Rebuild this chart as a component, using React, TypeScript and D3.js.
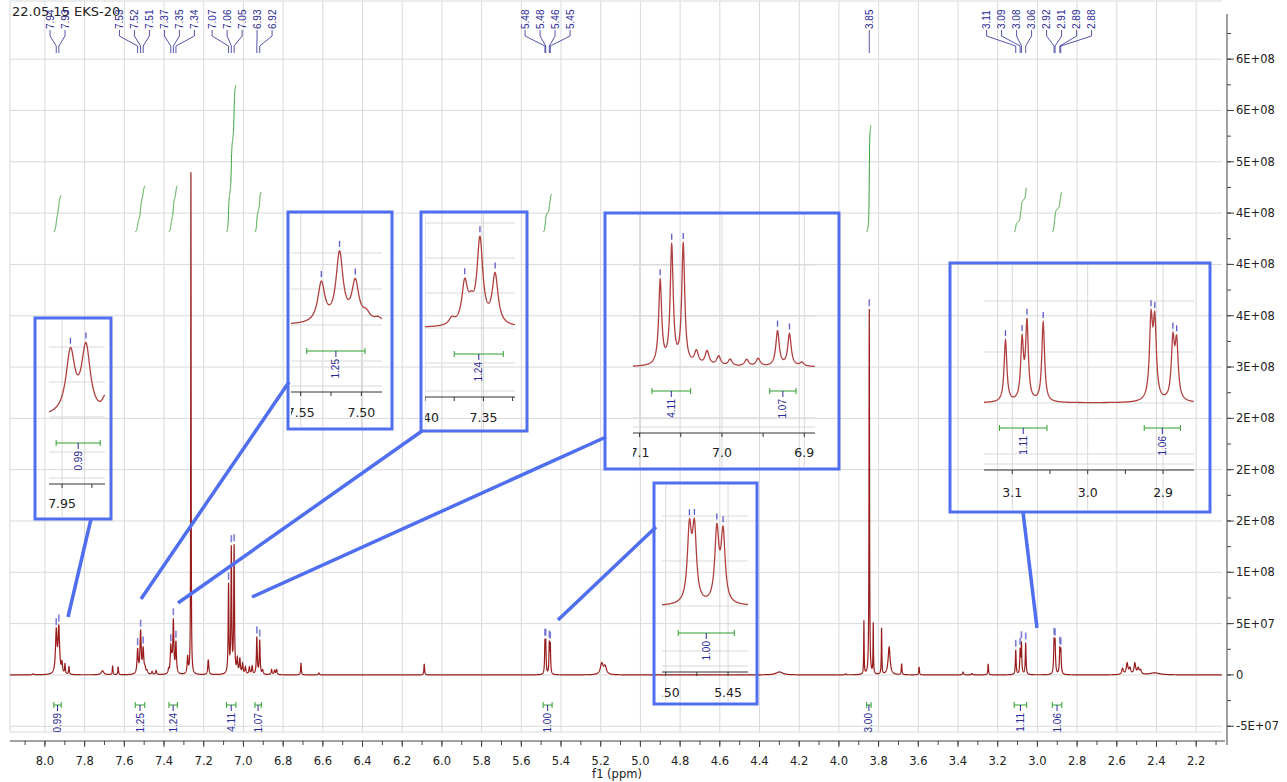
import React, { useMemo } from "react";
import * as d3 from "d3";

// ---------- DATA ----------
// peak table: position (ppm), amplitude (intensity), half width (ppm)
const peakPpm = [
  8.059, 7.943, 7.930, 7.914, 7.899, 7.879, 7.71, 7.659, 7.631,
  7.533, 7.518, 7.505, 7.496, 7.486, 7.46, 7.44,
  7.377, 7.366, 7.3605, 7.353, 7.340, 7.281, 7.2645, 7.177,
  7.075, 7.061, 7.047, 7.031, 7.018, 7.004, 6.990, 6.970, 6.956,
  6.9325, 6.918, 6.903, 6.858, 6.843, 6.833, 6.710, 6.62, 6.089,
  5.481, 5.477, 5.459, 5.454, 5.195, 5.178, 4.30, 3.966,
  3.874, 3.847, 3.827, 3.785, 3.747, 3.684, 3.596, 3.374, 3.330, 3.248,
  3.109, 3.087, 3.0805, 3.059, 2.916, 2.911, 2.887, 2.882,
  2.571, 2.548, 2.534, 2.509, 2.492, 2.480, 2.41,
];
const peakAmp = [
  1.0e6, 4.07e7, 4.43e7, 9.7e6, 9.7e6, 7.8e6, 3.9e6, 8.8e6, 7.8e6,
  2.35e7, 4.1e7, 2.35e7, 4.9e6, 2.9e6, 2.9e6, 3.9e6,
  3.9e6, 2.45e7, 8.8e6, 5.1e7, 3.0e7, 1.66e7, 4.89e8, 1.46e7,
  8.6e7, 1.21e8, 1.23e8, 1.36e7, 1.46e7, 9.7e6, 6.8e6, 6.8e6, 7.8e6,
  3.6e7, 3.3e7, 3.9e6, 4.9e6, 3.9e6, 4.9e6, 1.17e7, 1.95e6, 1.07e7,
  2.9e7, 2.9e7, 2.9e7, 2.8e7, 1.07e7, 7.8e6, 2.9e6, 1.0e6,
  5.2e7, 3.56e8, 4.9e7, 4.5e7, 2.7e7, 1.07e7, 7.8e6, 2.9e6, 1.5e6, 1.07e7,
  2.4e7, 2.3e7, 3.0e7, 3.1e7, 3.0e7, 2.9e7, 2.25e7, 2.15e7,
  5.8e6, 1.07e7, 5.8e6, 1.07e7, 5.8e6, 3.9e6, 1.95e6,
];
const peakHw = [
  0.004, 0.0045, 0.0045, 0.003, 0.002, 0.002, 0.008, 0.002, 0.002,
  0.0035, 0.0035, 0.0035, 0.004, 0.004, 0.003, 0.003,
  0.003, 0.003, 0.003, 0.003, 0.003, 0.003, 0.0012, 0.003,
  0.0022, 0.0022, 0.0022, 0.003, 0.003, 0.003, 0.003, 0.003, 0.003,
  0.0025, 0.0025, 0.003, 0.003, 0.003, 0.003, 0.002, 0.003, 0.002,
  0.002, 0.002, 0.002, 0.002, 0.008, 0.008, 0.02, 0.003,
  0.0013, 0.0015, 0.0013, 0.0015, 0.006, 0.002, 0.002, 0.003, 0.003, 0.002,
  0.0022, 0.0022, 0.0022, 0.0022, 0.0025, 0.0025, 0.0025, 0.0025,
  0.005, 0.005, 0.005, 0.005, 0.005, 0.005, 0.03,
];

// peak picking labels
const labelPpm = [
  7.943, 7.930, 7.533, 7.518, 7.505, 7.366, 7.353, 7.340, 7.075, 7.061, 7.047,
  6.9325, 6.918, 5.481, 5.477, 5.459, 5.454, 3.847, 3.109, 3.087, 3.0805, 3.059,
  2.916, 2.911, 2.887, 2.882,
];
const labelText = [
  "7.94", "7.93", "7.53", "7.52", "7.51", "7.37", "7.35", "7.34", "7.07", "7.06", "7.05",
  "6.93", "6.92", "5.48", "5.48", "5.46", "5.45", "3.85", "3.11", "3.09", "3.08", "3.06",
  "2.92", "2.91", "2.89", "2.88",
];

// integrals
const integralFrom = [7.955, 7.545, 7.375, 7.085, 6.942, 5.49, 3.86, 3.117, 2.925];
const integralTo = [7.918, 7.497, 7.333, 7.038, 6.910, 5.445, 3.838, 3.054, 2.877];
const integralValue = ["0.99", "1.25", "1.24", "4.11", "1.07", "1.00", "3.00", "1.11", "1.06"];
const integralRise = [3.6e7, 4.5e7, 4.5e7, 1.43e8, 3.9e7, 3.7e7, 1.04e8, 4.3e7, 3.9e7];

// axes
const xTickLabels = [
  "8.0", "7.8", "7.6", "7.4", "7.2", "7.0", "6.8", "6.6", "6.4", "6.2", "6.0", "5.8", "5.6",
  "5.4", "5.2", "5.0", "4.8", "4.6", "4.4", "4.2", "4.0", "3.8", "3.6", "3.4", "3.2", "3.0",
  "2.8", "2.6", "2.4", "2.2",
];
const yTickValues = [-5e7, 0, 5e7, 1e8, 1.5e8, 2e8, 2.5e8, 3e8, 3.5e8, 4e8, 4.5e8, 5e8, 5.5e8, 6e8];
const yTickLabels = [
  "-5E+07", "0", "5E+07", "1E+08", "2E+08", "2E+08", "2E+08", "3E+08", "4E+08", "4E+08",
  "4E+08", "5E+08", "6E+08", "6E+08",
];
const title = "22.05.15 EKS-20";

// ---------- helpers ----------
function intensity(p: number) {
  let s = 0;
  for (let i = 0; i < peakPpm.length; i++) {
    const d = p - peakPpm[i];
    const w = peakHw[i];
    s += (peakAmp[i] * w * w) / (d * d + w * w);
  }
  return s;
}

function sampleRange(a: number, b: number, step: number) {
  const pts = d3.range(a, b, -step);
  peakPpm.forEach((p) => {
    if (p <= a && p >= b) pts.push(p);
  });
  pts.sort((u, v) => v - u);
  return pts;
}

function layoutLabels(ideal: number[], gap: number) {
  type Block = { items: number[]; center: number };
  const blocks: Block[] = [];
  ideal.forEach((v, i) => {
    blocks.push({ items: [i], center: v });
    while (blocks.length > 1) {
      const b = blocks[blocks.length - 1];
      const a = blocks[blocks.length - 2];
      const aRight = a.center + ((a.items.length - 1) / 2) * gap;
      const bLeft = b.center - ((b.items.length - 1) / 2) * gap;
      if (bLeft - aRight < gap) {
        const items = a.items.concat(b.items);
        blocks.splice(blocks.length - 2, 2, {
          items,
          center: d3.mean(items, (k) => ideal[k]) as number,
        });
      } else break;
    }
  });
  const out: number[] = new Array(ideal.length);
  blocks.forEach((b) => {
    b.items.forEach((k, j) => {
      out[k] = b.center + (j - (b.items.length - 1) / 2) * gap;
    });
  });
  return out;
}

const BLUE = "#4f6ef0";
const LBL = "#2a2a96";
const GREEN = "#2f9f2f";
const GRID = "#d9d9d9";
const RED = "#981c1c";
const IRED = "#b04040";

type Inset = {
  rect: [number, number, number, number];
  dom: [number, number];
  xr: [number, number];
  base: number;
  r: number;
  axisY: number;
  ticks: number[];
  tickLabels: [number, string][];
  labelY: number;
  gridStep: number;
  ints: number[];
  intY: number;
  conn: [[number, number], [number, number]];
};

const insets: Inset[] = [
  { rect: [35, 318, 76, 201], dom: [7.961, 7.914], xr: [49, 105], base: 417, r: 1.48, axisY: 484,
    ticks: [7.95, 7.925], tickLabels: [[7.95, "7.95"]], labelY: 508, gridStep: 35, ints: [0], intY: 443,
    conn: [[91, 519], [68, 617]] },
  { rect: [288, 212, 104, 217], dom: [7.558, 7.483], xr: [291, 382], base: 325, r: 1.64, axisY: 392,
    ticks: [7.55, 7.525, 7.5], tickLabels: [[7.55, "7.55"], [7.5, "7.50"]], labelY: 417, gridStep: 36,
    ints: [1], intY: 351, conn: [[141, 599], [289, 382]] },
  { rect: [421, 212, 106, 219], dom: [7.4, 7.323], xr: [425, 515], base: 328, r: 1.62, axisY: 397,
    ticks: [7.4, 7.375, 7.35, 7.325], tickLabels: [[7.4, "7.40"], [7.35, "7.35"]], labelY: 422, gridStep: 35,
    ints: [2], intY: 354, conn: [[178, 603], [422, 431]] },
  { rect: [605, 213, 234, 256], dom: [7.108, 6.887], xr: [633, 815], base: 367, r: 0.95, axisY: 433,
    ticks: [7.1, 7.05, 7.0, 6.95, 6.9], tickLabels: [[7.1, "7.1"], [7.0, "7.0"], [6.9, "6.9"]], labelY: 457,
    gridStep: 51, ints: [3, 4], intY: 391, conn: [[252, 597], [606, 437]] },
  { rect: [654, 483, 103, 221], dom: [5.503, 5.434], xr: [662, 748], base: 606, r: 2.4, axisY: 672,
    ticks: [5.5, 5.475, 5.45], tickLabels: [[5.5, "5.50"], [5.45, "5.45"]], labelY: 697, gridStep: 45,
    ints: [5], intY: 633, conn: [[558, 620], [656, 527]] },
  { rect: [950, 263, 260, 249], dom: [3.1375, 2.859], xr: [984, 1194], base: 403, r: 2.5, axisY: 470,
    ticks: [3.1, 3.05, 3.0, 2.95, 2.9], tickLabels: [[3.1, "3.1"], [3.0, "3.0"], [2.9, "2.9"]], labelY: 497,
    gridStep: 51, ints: [7, 8], intY: 428, conn: [[1023, 512], [1037, 628]] },
];

function Bracket({ x1, x2, yb, label }: { x1: number; x2: number; yb: number; label: string }) {
  const cx = (x1 + x2) / 2;
  return (
    <g>
      <line x1={x1} x2={x2} y1={yb} y2={yb} stroke={GREEN} strokeWidth={1} />
      <line x1={x1} x2={x1} y1={yb - 3} y2={yb + 3} stroke={GREEN} strokeWidth={1} />
      <line x1={x2} x2={x2} y1={yb - 3} y2={yb + 3} stroke={GREEN} strokeWidth={1} />
      <line x1={cx} x2={cx} y1={yb} y2={yb + 6} stroke={LBL} strokeWidth={1} />
      <text
        transform={`translate(${cx},${yb + 8}) rotate(-90)`}
        textAnchor="end"
        dy="0.35em"
        fontSize={10}
        fontFamily="'Liberation Sans', Arial, sans-serif"
        fill={LBL}
      >
        {label}
      </text>
    </g>
  );
}

export default function App() {
  const x = d3.scaleLinear().domain([8.176, 2.07]).range([10, 1222]);
  const y = d3.scaleLinear().domain([-5.56e7, 6.44e8]).range([732, 14]);
  const k = (y(0) - y(1e8)) / 1e8;

  const mainPath = useMemo(() => {
    const pts = sampleRange(8.176, 2.07, 0.0005);
    return d3.line<number>().x((p) => x(p)).y((p) => y(intensity(p)))(pts) || "";
  }, []);

  const integralPaths = useMemo(() => {
    const base = y.invert(232);
    return integralFrom.map((a, i) => {
      const b = integralTo[i];
      const pts = d3.range(a, b, -0.0002);
      const vals = pts.map((p) => intensity(p));
      const cum = d3.cumsum(vals);
      const total = cum[cum.length - 1];
      return (
        d3
          .line<number>()
          .x((p) => x(p))
          .y((_, j) => y(base + (cum[j] / total) * integralRise[i]))(pts) || ""
      );
    });
  }, []);

  const labelX = layoutLabels(labelPpm.map((p) => x(p)), 15);

  const minorX = x.ticks(60);
  const minorY = d3.range(-5e7, 6.4e8, 2.5e7);
  const font = "'DejaVu Sans', Verdana, sans-serif";
  const lfont = "'Liberation Sans', Arial, sans-serif";

  return (
    <svg width={1287} height={782} style={{ display: "block", position: "absolute", left: 0, top: 0, background: "#fff" }}>
      <defs>
        <clipPath id="plotclip">
          <rect x={10} y={2} width={1212} height={730} />
        </clipPath>
        {insets.map((ins, i) => (
          <clipPath id={`iclip${i}`} key={i}>
            <rect x={ins.xr[0]} y={ins.rect[1] + 2} width={ins.xr[1] - ins.xr[0]} height={ins.rect[3] - 4} />
          </clipPath>
        ))}
      </defs>

      {/* grid */}
      <g>
        {xTickLabels.map((t) => (
          <line key={t} x1={x(+t)} x2={x(+t)} y1={1} y2={732} stroke={GRID} strokeWidth={1} />
        ))}
        {yTickValues.map((v) => (
          <line key={v} x1={10} x2={1222} y1={y(v)} y2={y(v)} stroke={GRID} strokeWidth={1} />
        ))}
        <line x1={10} x2={1222} y1={1} y2={1} stroke={GRID} />
        <line x1={10} x2={1222} y1={732} y2={732} stroke={GRID} />
        <line x1={10} x2={10} y1={1} y2={732} stroke={GRID} />
      </g>

      {/* title */}
      <text x={12} y={16} fontSize={13} fontFamily={font} fill="#222">
        {title}
      </text>

      {/* integral curves */}
      {integralPaths.map((d, i) => (
        <path key={i} d={d} fill="none" stroke={GREEN} strokeWidth={1} />
      ))}

      {/* spectrum */}
      <path d={mainPath} fill="none" stroke={RED} strokeWidth={1.2} clipPath="url(#plotclip)" />

      {/* peak marks */}
      {labelPpm.map((p, i) => {
        const top = y(intensity(p));
        return <line key={i} x1={x(p)} x2={x(p)} y1={top - 3} y2={top - 10} stroke="#6a6ad0" strokeWidth={1.6} opacity={0.85} />;
      })}

      {/* peak labels */}
      {labelText.map((t, i) => {
        const lx = labelX[i];
        const px = x(labelPpm[i]);
        return (
          <g key={i}>
            <text transform={`translate(${lx},29) rotate(-90)`} dy="0.35em" fontSize={10} fontFamily={lfont} fill={LBL}>
              {t}
            </text>
            <polyline points={`${lx},30 ${lx},36 ${px},46 ${px},53`} fill="none" stroke={LBL} strokeWidth={0.8} />
          </g>
        );
      })}

      {/* integral brackets */}
      {integralFrom.map((a, i) => (
        <Bracket key={i} x1={x(a)} x2={x(integralTo[i])} yb={705} label={integralValue[i]} />
      ))}

      {/* x axis */}
      <g>
        <line x1={10} x2={1225} y1={741} y2={741} stroke="#444" />
        {minorX.map((v) => (
          <line key={v} x1={x(v)} x2={x(v)} y1={741} y2={745} stroke="#444" />
        ))}
        {xTickLabels.map((t) => (
          <g key={t}>
            <line x1={x(+t)} x2={x(+t)} y1={741} y2={747} stroke="#444" />
            <text x={x(+t)} y={765} textAnchor="middle" fontSize={11.5} fontFamily={font} fill="#222">
              {t}
            </text>
          </g>
        ))}
        <text x={617} y={778} textAnchor="middle" fontSize={11.5} fontFamily={font} fill="#222">
          f1 (ppm)
        </text>
      </g>

      {/* y axis */}
      <g>
        <line x1={1227} x2={1227} y1={14} y2={745} stroke="#444" />
        {minorY.map((v) => (
          <line key={v} x1={1227} x2={1231} y1={y(v)} y2={y(v)} stroke="#444" />
        ))}
        {yTickValues.map((v, i) => (
          <g key={v}>
            <line x1={1227} x2={1234} y1={y(v)} y2={y(v)} stroke="#444" />
            <text x={1236} y={y(v)} dy="0.35em" fontSize={11.5} fontFamily={font} fill="#222">
              {yTickLabels[i]}
            </text>
          </g>
        ))}
      </g>

      {/* insets */}
      {insets.map((ins, n) => {
        const ix = d3.scaleLinear().domain(ins.dom).range(ins.xr);
        const iy = (p: number) => ins.base - ins.r * k * intensity(p);
        const pts = sampleRange(ins.dom[0], ins.dom[1], (ins.dom[0] - ins.dom[1]) / 700);
        const d = d3.line<number>().x((p) => ix(p)).y((p) => iy(p))(pts) || "";
        const [rx, ry, rw, rh] = ins.rect;
        const gl: number[] = [];
        for (let g = ins.base - 10 * ins.gridStep; g < ins.axisY - 4; g += ins.gridStep) {
          if (g > ry + 6) gl.push(g);
        }
        return (
          <g key={n}>
            <g clipPath={`url(#iclip${n})`}>
              {gl.map((g) => (
                <line key={g} x1={ins.xr[0]} x2={ins.xr[1]} y1={g} y2={g} stroke={GRID} />
              ))}
              <line x1={ins.xr[0]} x2={ins.xr[1]} y1={ins.axisY - 6} y2={ins.axisY - 6} stroke={GRID} />
              {ins.tickLabels.map(([v]) => (
                <line key={v} x1={ix(v)} x2={ix(v)} y1={ry} y2={ry + rh} stroke={GRID} />
              ))}
              <path d={d} fill="none" stroke={IRED} strokeWidth={1.3} />
              {labelPpm.map((p, i) =>
                p <= ins.dom[0] && p >= ins.dom[1] ? (
                  <line key={i} x1={ix(p)} x2={ix(p)} y1={iy(p) - 4} y2={iy(p) - 10} stroke="#5a5ac8" strokeWidth={1.3} />
                ) : null
              )}
              {ins.ints.map((j) => (
                <Bracket key={j} x1={ix(integralFrom[j])} x2={ix(integralTo[j])} yb={ins.intY} label={integralValue[j]} />
              ))}
              <line x1={ins.xr[0]} x2={ins.xr[1]} y1={ins.axisY} y2={ins.axisY} stroke="#333" />
              {ins.ticks.map((v) => (
                <line key={v} x1={ix(v)} x2={ix(v)} y1={ins.axisY} y2={ins.axisY + 4} stroke="#333" />
              ))}
              {ins.tickLabels.map(([v, t]) => (
                <text key={t} x={ix(v)} y={ins.labelY} textAnchor="middle" fontSize={12.5} fontFamily={font} fill="#222">
                  {t}
                </text>
              ))}
            </g>
            <rect x={rx} y={ry} width={rw} height={rh} fill="none" stroke={BLUE} strokeWidth={3} />
            <line
              x1={ins.conn[0][0]}
              y1={ins.conn[0][1]}
              x2={ins.conn[1][0]}
              y2={ins.conn[1][1]}
              stroke={BLUE}
              strokeWidth={3.5}
            />
          </g>
        );
      })}
    </svg>
  );
}
